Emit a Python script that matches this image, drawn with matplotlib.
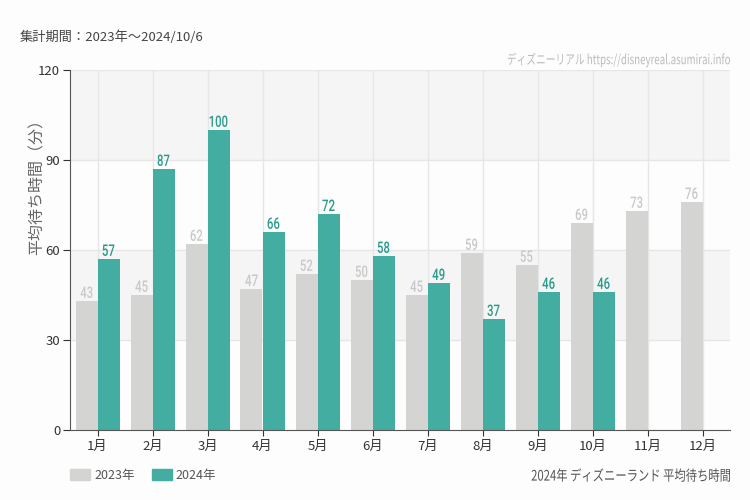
import matplotlib
matplotlib.use("Agg")
import matplotlib.pyplot as plt
import numpy as np
from matplotlib.patches import Patch, PathPatch
from matplotlib.textpath import TextPath
from matplotlib.font_manager import FontProperties
from matplotlib.transforms import Affine2D

plt.rcParams['font.family'] = ['Noto Sans CJK JP', 'DejaVu Sans']

months = ['1月', '2月', '3月', '4月', '5月', '6月', '7月', '8月', '9月', '10月', '11月', '12月']
v2023 = [43, 45, 62, 47, 52, 50, 45, 59, 55, 69, 73, 76]
v2024 = [57, 87, 100, 66, 72, 58, 49, 37, 46, 46, None, None]
yticks = [0, 30, 60, 90, 120]

c23 = '#d4d5d3'
c24 = '#43ada1'

W, H = 750, 500
fig = plt.figure(figsize=(7.5, 5), dpi=100)
fig.patch.set_facecolor('#fcfdfc')
ax = fig.add_axes([70/W, 70/H, 660/W, 360/H])
ax.set_facecolor('#fcfdfc')
ax.set_xlim(-0.5, len(months) - 0.5)
ax.set_ylim(0, 120)


def ctext(px, py, s, size=12, sx=0.7, ha='center', va='bottom', color='k',
          family='Roboto', weight='normal', ref_h=None):
    """Draw horizontally condensed text at figure pixel coords (py from bottom)."""
    prop = FontProperties(family=family, weight=weight)
    tp = TextPath((0, 0), s, size=size, prop=prop)
    ext = tp.get_extents()
    sc = 1.0
    if ref_h is not None:
        sc = ref_h / ext.height
    w = ext.width * sc * sx
    if ha == 'center':
        ox = -ext.x0 * sc * sx - w / 2
    elif ha == 'right':
        ox = -ext.x0 * sc * sx - w
    else:
        ox = -ext.x0 * sc * sx
    if va == 'bottom':
        oy = -ext.y0 * sc
    elif va == 'center':
        oy = -(ext.y0 + ext.height / 2) * sc
    else:
        oy = 0
    tr = Affine2D().scale(sc * sx, sc).translate(px + ox, py + oy)
    patch = PathPatch(tp, transform=tr, facecolor=color, edgecolor='none', lw=0)
    fig.add_artist(patch)
    return patch


# bands
for lo, hi in [(30, 60), (90, 120)]:
    ax.axhspan(lo, hi, color='#f4f5f4', zorder=0, lw=0)
for y in yticks[1:]:
    ax.axhline(y, color='#e6e6e6', lw=1, zorder=0.5)

x = np.arange(len(months))
for xi in x:
    ax.axvline(xi, color='#e6e6e6', lw=1, zorder=0.5)

w = 0.4
for i, v in enumerate(v2023):
    if v is None:
        continue
    ax.bar(x[i] - w/2, v, width=w, color=c23, zorder=2)
    px, py = ax.transData.transform((x[i] - w/2, v))
    ctext(px, py + 3, str(v), ref_h=11.5, sx=0.72, color='#c9c9c9', weight='medium')
for i, v in enumerate(v2024):
    if v is None:
        continue
    ax.bar(x[i] + w/2, v, width=w, color=c24, zorder=2)
    px, py = ax.transData.transform((x[i] + w/2, v))
    ctext(px, py + 3, str(v), ref_h=11.5, sx=0.72, color='#2a9a8c', weight='medium')

ax.set_yticks(yticks)
ax.set_yticklabels([str(t) for t in yticks], fontsize=9.5, color='#333333')
ax.set_xticks(x)
ax.set_xticklabels(months, fontsize=9.5, color='#333333')
ax.tick_params(axis='y', length=5, color='#333333', pad=2)
ax.tick_params(axis='x', length=4, color='#333333', pad=3)
for s in ['top', 'right']:
    ax.spines[s].set_visible(False)
ax.spines['left'].set_color('#555555')
ax.spines['bottom'].set_color('#555555')

fig.text(37/W, 1 - 183/H, '平均待ち時間（分）', fontsize=11.5, color='#666666',
         rotation=90, ha='center', va='center')

fig.text(20/W, 1 - 37/H, '集計期間：2023年〜2024/10/6', fontsize=9.5, color='#444444',
         ha='left', va='center')

# watermark and caption (condensed)
ctext(730, H - 60, 'ディズニーリアル https://disneyreal.asumirai.info', size=13.5, sx=0.72,
      ha='right', va='center', color='#bbbbbb', family='Noto Sans CJK JP')
ctext(730, H - 475, '2024年 ディズニーランド 平均待ち時間', size=14.5, sx=0.78,
      ha='right', va='center', color='#555555', family='Noto Sans CJK JP')

handles = [Patch(color=c23, label='2023年'), Patch(color=c24, label='2024年')]
leg = fig.legend(handles=handles, loc='center left', bbox_to_anchor=(59/W, 1 - 475/H),
                 ncol=2, frameon=False, fontsize=9, handlelength=1.6, handleheight=1.0,
                 columnspacing=1.4, handletextpad=0.3)
for t in leg.get_texts():
    t.set_color('#555555')

fig.savefig('out.png', dpi=100, facecolor=fig.get_facecolor())
